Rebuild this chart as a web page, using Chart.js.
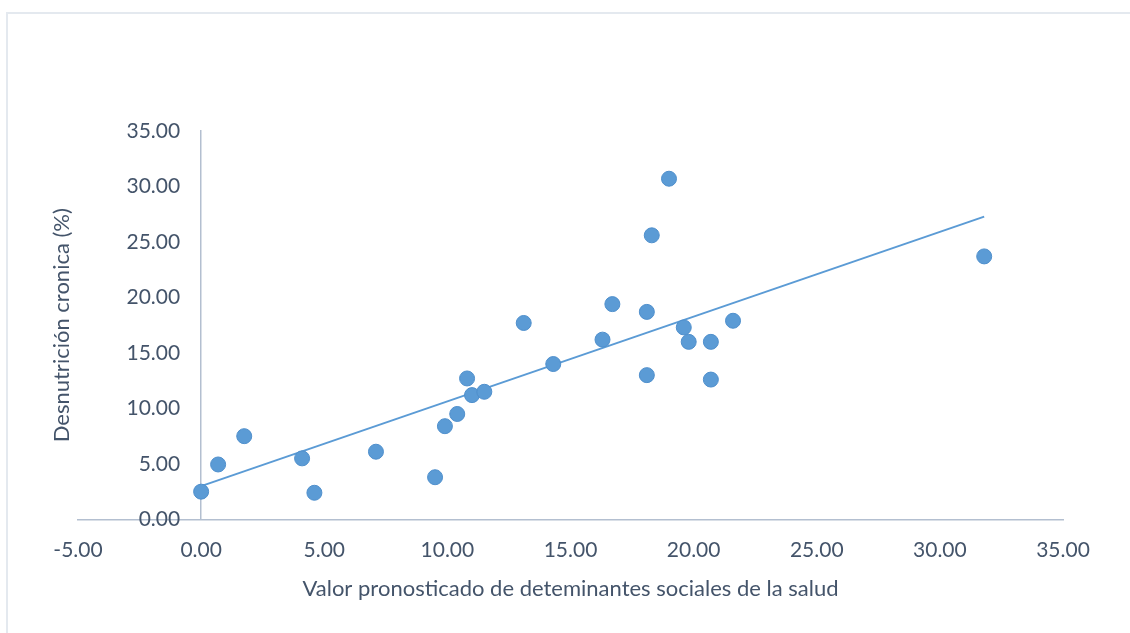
<!DOCTYPE html>
<html>
<head>
<meta charset="utf-8">
<script src="https://cdn.jsdelivr.net/npm/chart.js@4/dist/chart.umd.min.js"></script>
<style>
    html, body { margin: 0; padding: 0; background: #fff; overflow: hidden; }
    #frame { position: absolute; left: 6px; top: 12px; width: 1140px; height: 640px;
             border: 2px solid #e4e9ef; box-sizing: border-box; }
    #chart { position: absolute; left: 0; top: 0; }
</style>
</head>
<body>
<div id="frame"></div>
<canvas id="chart" width="1130" height="633"></canvas>
<script>
    'use strict';

    // Valor pronosticado de determinantes sociales (x) vs desnutrición crónica (y)
    const predicted = [0.0, 0.69, 1.75, 4.1, 4.6, 7.1, 9.5, 9.9, 10.4, 10.8, 11.0, 11.5, 13.1,
                       14.3, 16.3, 16.7, 18.1, 18.1, 18.3, 19.0, 19.6, 19.8, 20.7, 20.7, 21.6, 31.8];
    const malnutrition = [2.5, 4.95, 7.5, 5.5, 2.4, 6.1, 3.8, 8.4, 9.5, 12.7, 11.2, 11.5, 17.7,
                          14.0, 16.2, 19.4, 18.7, 13.0, 25.6, 30.7, 17.3, 16.0, 16.0, 12.6, 17.9, 23.7];
    const xTicks = [-5, 0, 5, 10, 15, 20, 25, 30, 35];
    const yTicks = [0, 5, 10, 15, 20, 25, 30, 35];

    const xTitle = 'Valor pronosticado de deteminantes sociales de la salud';
    const yTitle = 'Desnutrición cronica (%)';

    const textColor = '#44546a';
    const axisColor = '#b3bfd0';
    const blue = '#5b9bd5';
    const family = 'Lato, "Open Sans", sans-serif';
    const tickFont = { family: family, size: 21 };
    const titleFont = { family: family, size: 22 };

    // least-squares trend line, drawn across the data's x range (like Excel)
    function trend(xs, ys) {
        const n = xs.length;
        const mx = xs.reduce((a, b) => a + b, 0) / n;
        const my = ys.reduce((a, b) => a + b, 0) / n;
        let sxy = 0, sxx = 0;
        xs.forEach((x, i) => { sxy += (x - mx) * (ys[i] - my); sxx += (x - mx) * (x - mx); });
        const slope = sxy / sxx;
        const lo = Math.min(...xs), hi = Math.max(...xs);
        return [lo, hi].map(x => ({ x: x, y: my + slope * (x - mx) }));
    }

    const points = predicted.map((x, i) => ({ x: x, y: malnutrition[i] }));

    // The y axis crosses at x = 0 (Excel style). Chart.js puts its labels flush on the line
    // and would rotate the title the wrong way, so both are drawn here off the scales.
    const yAxisText = {
        id: 'yAxisText',
        afterDraw(chart) {
            const { ctx, chartArea } = chart;
            const xs = chart.scales.x, ys = chart.scales.y;
            const axisX = xs.getPixelForValue(0);
            ctx.save();
            ctx.fillStyle = textColor;
            ctx.font = tickFont.size + 'px ' + family;
            ctx.textAlign = 'right';
            ctx.textBaseline = 'middle';
            yTicks.forEach(v => ctx.fillText(v.toFixed(2), axisX - 21, ys.getPixelForValue(v)));

            ctx.translate(chartArea.left - 16, (chartArea.top + chartArea.bottom) / 2);
            ctx.rotate(-Math.PI / 2);
            ctx.font = titleFont.size + 'px ' + family;
            ctx.textAlign = 'center';
            ctx.fillText(yTitle, 0, 0);
            ctx.restore();
        }
    };

    new Chart(document.getElementById('chart'), {
        type: 'scatter',
        data: {
            datasets: [
                {
                    data: points,
                    backgroundColor: blue,
                    borderColor: '#4f8fcc',
                    borderWidth: 1,
                    pointRadius: 7.5,
                    order: 1
                },
                {
                    type: 'line',
                    data: trend(predicted, malnutrition),
                    borderColor: blue,
                    borderWidth: 2,
                    pointRadius: 0,
                    fill: false,
                    order: 2
                }
            ]
        },
        options: {
            responsive: false,
            animation: false,
            layout: { padding: { left: 78, right: 67, top: 131, bottom: 31 } },
            plugins: { legend: { display: false }, tooltip: { enabled: false } },
            scales: {
                x: {
                    type: 'linear',
                    min: -5, max: 35,
                    afterBuildTicks: s => { s.ticks = xTicks.map(v => ({ value: v })); },
                    grid: { display: false, drawTicks: false },
                    border: { display: true, color: axisColor, width: 1.5 },
                    ticks: { color: textColor, font: tickFont, padding: 18, maxRotation: 0,
                             callback: v => Number(v).toFixed(2) },
                    title: { display: true, text: xTitle, color: textColor, font: titleFont,
                             padding: { top: -5, bottom: 0 } }
                },
                y: {
                    type: 'linear',
                    position: { x: 0 },
                    min: 0, max: 35,
                    afterBuildTicks: s => { s.ticks = yTicks.map(v => ({ value: v })); },
                    grid: { display: false, drawTicks: false },
                    border: { display: true, color: axisColor, width: 1.5 },
                    ticks: { display: false }
                }
            }
        },
        plugins: [yAxisText]
    });
</script>
</body>
</html>
